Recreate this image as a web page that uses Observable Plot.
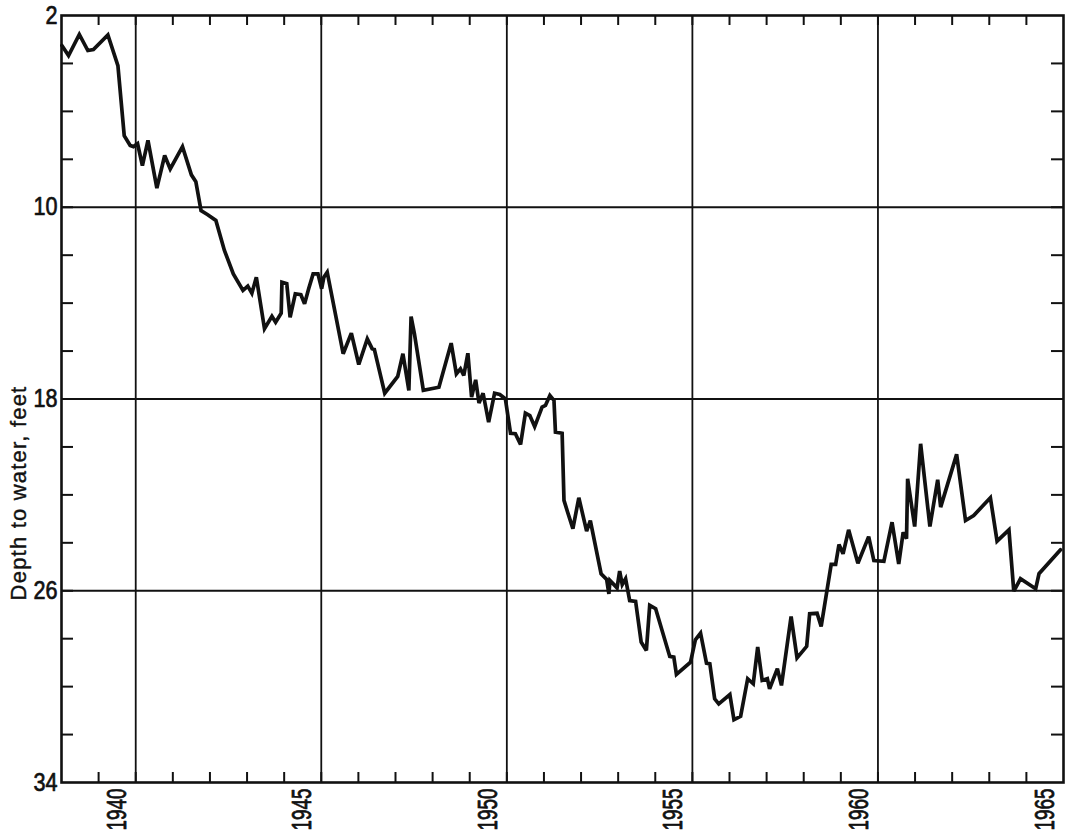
<!DOCTYPE html>
<html>
<head>
<meta charset="utf-8">
<script src="https://cdn.jsdelivr.net/npm/d3@7"></script>
<script src="https://cdn.jsdelivr.net/npm/@observablehq/plot@0.6"></script>
<style>
  html, body { margin: 0; padding: 0; background: #fff; }
</style>
</head>
<body>
<div id="chart"></div>
<script>
// Observation dates (decimal years) and depth to water (feet below land surface)
const years = [1939.01,1939.19,1939.48,1939.71,1939.86,1940.25,1940.52,1940.69,1940.85,1940.94,
  1941.05,1941.18,1941.33,1941.57,1941.78,1941.93,1942.26,1942.50,1942.62,1942.76,
  1942.94,1943.16,1943.39,1943.63,1943.89,1944.02,1944.13,1944.25,1944.47,1944.67,
  1944.77,1944.92,1944.94,1945.07,1945.16,1945.30,1945.45,1945.55,1945.66,1945.78,
  1945.91,1946.01,1946.07,1946.16,1946.59,1946.81,1947.01,1947.24,1947.37,1947.43,
  1947.71,1948.06,1948.20,1948.36,1948.42,1948.51,1948.75,1949.17,1949.50,1949.64,
  1949.75,1949.84,1949.95,1950.05,1950.16,1950.25,1950.36,1950.51,1950.67,1950.81,
  1950.96,1951.10,1951.23,1951.37,1951.50,1951.62,1951.75,1951.95,1952.04,1952.16,
  1952.27,1952.31,1952.49,1952.54,1952.63,1952.78,1952.94,1953.15,1953.25,1953.54,
  1953.69,1953.75,1953.78,1953.97,1954.04,1954.11,1954.20,1954.31,1954.47,1954.62,
  1954.76,1954.85,1955.01,1955.39,1955.50,1955.57,1955.95,1956.08,1956.22,1956.38,
  1956.47,1956.60,1956.71,1957.01,1957.12,1957.30,1957.49,1957.64,1957.76,1957.88,
  1958.02,1958.08,1958.29,1958.40,1958.66,1958.82,1959.08,1959.16,1959.36,1959.47,
  1959.74,1959.86,1959.95,1960.06,1960.21,1960.46,1960.75,1960.89,1961.16,1961.38,
  1961.56,1961.68,1961.77,1961.80,1961.99,1962.15,1962.40,1962.61,1962.69,1963.12,
  1963.36,1963.58,1964.03,1964.21,1964.53,1964.66,1964.84,1965.25,1965.34,1965.92];

const depths = [3.25,3.67,2.79,3.46,3.42,2.81,4.09,7.01,7.42,7.47,
  7.35,8.26,7.21,9.20,7.84,8.40,7.47,8.65,8.93,10.14,
  10.31,10.55,11.80,12.78,13.47,13.29,13.59,12.92,15.07,14.55,
  14.80,14.42,13.13,13.19,14.59,13.61,13.65,14.03,13.40,12.78,
  12.78,13.40,12.92,12.71,16.11,15.25,16.56,15.49,15.90,15.93,
  17.76,17.06,16.11,17.64,14.56,15.28,17.64,17.51,15.67,16.95,
  16.74,17.02,16.09,17.92,17.20,18.17,17.76,18.97,17.76,17.81,
  17.99,19.43,19.45,19.90,18.59,18.69,19.15,18.34,18.27,17.85,
  18.06,19.38,19.43,22.23,22.68,23.41,22.12,23.51,23.07,25.29,
  25.53,26.13,25.57,25.88,25.18,25.74,25.50,26.41,26.44,28.14,
  28.49,26.61,26.75,28.74,28.77,29.49,28.98,28.05,27.77,29.02,
  29.05,30.51,30.72,30.33,31.38,31.24,29.67,29.88,28.35,29.74,
  29.67,30.09,29.25,29.95,27.07,28.80,28.32,26.96,26.94,27.49,
  24.90,24.90,24.07,24.46,23.46,24.85,23.74,24.74,24.77,23.14,
  24.88,23.56,23.83,21.33,23.32,19.87,23.32,21.37,22.51,20.31,
  23.07,22.86,22.12,23.93,23.46,26.02,25.50,25.92,25.29,24.29];

// Axis definitions
const xDomain = [1939, 1966];
const yDomain = [2, 34];
const yearTicks = d3.range(1940, 1966);            // small year ticks top & bottom
const yearGrid = [1941, 1946, 1951, 1956, 1961];   // heavy vertical lines
const yearLabels = [1940, 1945, 1950, 1955, 1960, 1965]; // centred in their year
const depthTicks = d3.range(4, 34, 2);             // small ticks left & right
const depthGrid = [10, 18, 26];
const depthLabels = [2, 10, 18, 26, 34];
const yTitle = ["Depth to water, feet"];

const data = years.map((x, i) => ({year: x, depth: depths[i]}));

const W = 1068, H = 836;
const mL = 61, mR = 5, mT = 15, mB = 54;
const plotW = W - mL - mR, plotH = H - mT - mB;
const font = "'Liberation Sans', Arial, sans-serif";
const ink = "#111";

const chart = Plot.plot({
  width: W,
  height: H,
  marginLeft: mL,
  marginRight: mR,
  marginTop: mT,
  marginBottom: mB,
  style: {fontFamily: font, background: "#fff", color: ink},
  x: {domain: xDomain, axis: null},
  y: {domain: yDomain, reverse: true, axis: null},
  marks: [
    Plot.ruleX(yearGrid, {x: d => d, stroke: ink, strokeWidth: 1.8}),
    Plot.ruleY(depthGrid, {y: d => d, stroke: ink, strokeWidth: 1.8}),
    // inward ticks along the top and bottom
    Plot.tickX(yearTicks, {x: d => d, stroke: ink, strokeWidth: 2, insetBottom: plotH - 10}),
    Plot.tickX(yearTicks, {x: d => d, stroke: ink, strokeWidth: 2, insetTop: plotH - 10}),
    // inward ticks along the left and right
    Plot.tickY(depthTicks, {y: d => d, stroke: ink, strokeWidth: 2, insetRight: plotW - 12}),
    Plot.tickY(depthTicks, {y: d => d, stroke: ink, strokeWidth: 2, insetLeft: plotW - 12}),
    Plot.line(data, {x: "year", y: "depth", stroke: ink, strokeWidth: 3.7, strokeLinejoin: "miter", strokeMiterlimit: 3}),
    Plot.frame({stroke: ink, strokeWidth: 2.6}),
    // depth labels
    Plot.text(depthLabels, {y: d => d, text: d => String(d), frameAnchor: "left", dx: -4,
      textAnchor: "end", lineAnchor: "middle", fontSize: 25, fill: ink, stroke: ink, strokeWidth: 0.7}),
    // year labels, rotated
    Plot.text(yearLabels, {x: d => d + 0.5, text: d => String(d), frameAnchor: "bottom", dy: 6,
      rotate: -90, textAnchor: "end", lineAnchor: "middle", fontSize: 27, fill: ink, stroke: ink, strokeWidth: 0.8}),
    // y-axis title
    Plot.text(yTitle, {text: d => d, frameAnchor: "left", dx: -43, dy: 94,
      rotate: -90, textAnchor: "middle", lineAnchor: "middle", fontSize: 22, fill: ink, stroke: ink, strokeWidth: 0.4})
  ]
});

// narrow the lettering along the reading direction (like condensed drafting letters)
const textGroups = d3.select(chart).selectAll('g[aria-label="text"]').nodes();
if (textGroups.length >= 3) {
  d3.select(textGroups[0]).selectAll("text").each(function() {
    const n = (this.textContent || "").length;
    this.setAttribute("textLength", 12 * n);
    this.setAttribute("lengthAdjust", "spacingAndGlyphs");
  });
  d3.select(textGroups[1]).selectAll("text").each(function() {
    const n = (this.textContent || "").length;
    this.setAttribute("textLength", 10.5 * n);
    this.setAttribute("lengthAdjust", "spacingAndGlyphs");
  });
  d3.select(textGroups[2]).selectAll("text").attr("letter-spacing", "1.2px");
}
document.getElementById("chart").appendChild(chart);
</script>
</body>
</html>
